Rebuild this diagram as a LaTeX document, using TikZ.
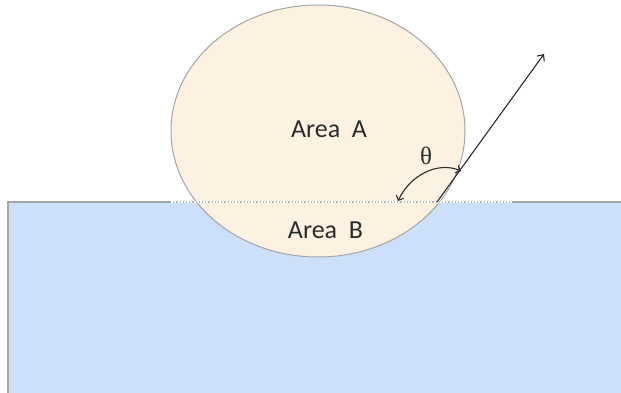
\documentclass[tikz,border=0pt]{standalone}
\usepackage{fontspec}
\setmainfont{Carlito}
\newfontfamily\thetafont{Liberation Serif}
\usetikzlibrary{arrows.meta,shapes.geometric}
\definecolor{drop}{HTML}{FDF2E1}
\definecolor{water}{HTML}{CCE0FA}
\definecolor{rim}{HTML}{A5A5A5}
\definecolor{ink}{HTML}{2B2B2B}

\begin{document}
\begin{tikzpicture}[x=1pt,y=1pt,
    label/.style={font=\fontsize{26}{30}\selectfont,text=ink},
    vec/.style={ink,line width=1.1pt,-{Straight Barb[length=5pt,width=9pt,line width=1.1pt]}}]
  \useasboundingbox (0,0) rectangle (621,393);
  \clip (0,0) rectangle (621,393);
  \fill[white] (0,0) rectangle (621,393);
  % substrate and drop
  \draw[rim,line width=1.2pt,fill=water] (8,-5) rectangle (630,191);
  \node[ellipse,draw=rim,line width=1pt,fill=drop,minimum width=294pt,minimum height=252pt,inner sep=0pt] (dropA) at (318,262) {};
  \draw[white,line width=1.2pt] (170,191)--(512,191);
  \draw[rim!80,line width=1.2pt,dotted] (170,191)--(512,191);
  \node[label] (areaA) at (329,264) {Area\ \ A};
  \node[label] (areaB) at (325.5,163) {Area\ \ B};
  % contact angle
  \coordinate (contact) at (437,191);
  \coordinate (tip) at (544,339);
  \draw[vec] (contact)--(tip);
  \coordinate (arcR) at (461,222);
  \coordinate (arcL) at (398,192);
  \draw[ink,line width=1.1pt,{Straight Barb[length=4pt,width=8pt,line width=1.1pt]}-{Straight Barb[length=4pt,width=8pt,line width=1.1pt]}]
    (arcL) .. controls (410,218) and (438,232) .. (arcR);
  \node[font=\thetafont\fontsize{25}{29}\selectfont,text=ink] (theta) at (426,237) {θ};
\end{tikzpicture}
\end{document}
